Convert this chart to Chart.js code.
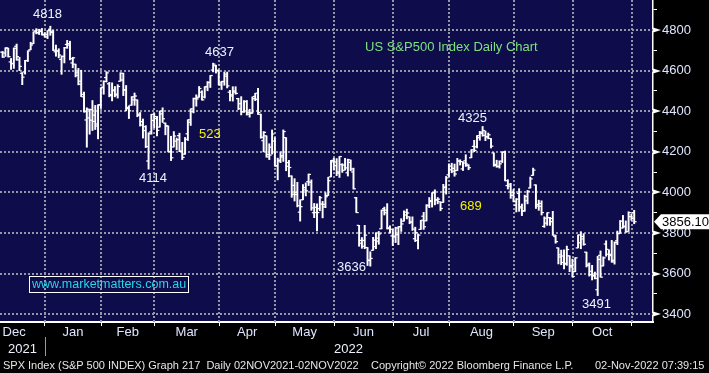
<!DOCTYPE html>
<html><head><meta charset="utf-8">
<script src="https://cdn.jsdelivr.net/npm/chart.js@4.4.0/dist/chart.umd.min.js"></script>
<style>
html,body{margin:0;padding:0;background:#000;}
#wrap{position:relative;width:709px;height:373px;overflow:hidden;font-family:'Liberation Sans',Arial,sans-serif;}
canvas{position:absolute;left:0;top:0;}
.t{position:absolute;white-space:nowrap;line-height:15px;font-size:13px;color:#eef2ff;}
.y{color:#f2f200;}
.g{color:#7ee07e;}
.f{position:absolute;white-space:nowrap;line-height:14px;font-size:11px;color:#e6e6e6;top:358px;}
#web{position:absolute;left:29px;top:276px;width:156px;height:15px;border:1px solid #fff;color:#28d6e6;font-size:12.5px;line-height:15px;padding-left:2px;white-space:nowrap;}
#tag{position:absolute;left:662px;top:214px;line-height:15px;font-size:13px;color:#000;}
</style></head><body>
<div id="wrap">
<canvas id="c" width="709" height="373"></canvas>
<div class="t" style="left:33px;top:6px">4818</div>
<div class="t" style="left:205px;top:44px">4637</div>
<div class="t y" style="left:199px;top:126px">523</div>
<div class="t" style="left:139px;top:170px">4114</div>
<div class="t" style="left:458px;top:110px">4325</div>
<div class="t y" style="left:460px;top:198px">689</div>
<div class="t" style="left:337px;top:259px">3636</div>
<div class="t" style="left:582px;top:296px">3491</div>
<div class="t g" style="left:365px;top:39px">US S&amp;P500 Index Daily Chart</div>
<div id="web">www.marketmatters.com.au</div>
<div class="t" style="left:8px;top:341px">2021</div>
<div class="t" style="left:334px;top:341px">2022</div>
<div id="tag">3856.10</div>
<div class="f" style="left:3px">SPX Index (S&amp;P 500 INDEX) Graph 217&nbsp; Daily 02NOV2021-02NOV2022</div>
<div class="f" style="left:371px">Copyright© 2022 Bloomberg Finance L.P.</div>
<div class="f" style="left:595px">02-Nov-2022 07:39:15</div>
</div>
<script>
// ---- categories: trading sessions shown (Dec 9 2021 .. Nov 1 2022) ----
const monthNames = ['Dec','Jan','Feb','Mar','Apr','May','Jun','Jul','Aug','Sep','Oct','Nov'];
const monthDays = [
  [9,10,13,14,15,16,17,20,21,22,23,27,28,29,30,31],
  [3,4,5,6,7,10,11,12,13,14,18,19,20,21,24,25,26,27,28,31],
  [1,2,3,4,7,8,9,10,11,14,15,16,17,18,22,23,24,25,28],
  [1,2,3,4,7,8,9,10,11,14,15,16,17,18,21,22,23,24,25,28,29,30,31],
  [1,4,5,6,7,8,11,12,13,14,18,19,20,21,22,25,26,27,28,29],
  [2,3,4,5,6,9,10,11,12,13,16,17,18,19,20,23,24,25,26,27,31],
  [1,2,3,6,7,8,9,10,13,14,15,16,17,21,22,23,24,27,28,29,30],
  [1,5,6,7,8,11,12,13,14,15,18,19,20,21,22,25,26,27,28,29],
  [1,2,3,4,5,8,9,10,11,12,15,16,17,18,19,22,23,24,25,26,29,30,31],
  [1,2,6,7,8,9,12,13,14,15,16,19,20,21,22,23,26,27,28,29,30],
  [3,4,5,6,7,10,11,12,13,14,17,18,19,20,21,24,25,26,27,28,31],
  [1]
];
const dec2021Sessions = 22; // full December session count (only the tail is visible)

// ---- series: daily OHLC of the S&P 500 ----
const opens = [4691,4687,4711,4643,4636,4720,4653,4587,4594,4650,4703,4733,4796,4788,4795,4776,
4778,4804,4788,4693,4698,4655,4670,4729,4733,4638,4632,4589,4548,4471,4357,4367,4408,4381,4337,4431,
4519,4566,4535,4482,4505,4480,4548,4554,4506,4413,4430,4456,4456,4385,4332,4324,4155,4298,4355,
4364,4322,4401,4342,4327,4202,4224,4253,4280,4202,4189,4289,4346,4398,4462,4469,4494,4470,4522,4541,4603,4624,4600,
4540,4547,4573,4494,4475,4494,4462,4437,4398,4449,4385,4390,4473,4489,4385,4255,4279,4187,4223,4253,
4130,4159,4181,4270,4129,4081,4035,3990,3903,3964,4013,4053,4051,3900,3927,3920,3943,3929,3985,4077,4151,
4150,4095,4137,4135,4097,4148,4101,3974,3838,3764,3764,3729,3665,3715,3733,3775,3821,3920,3913,3826,3786,
3781,3792,3831,3859,3889,3880,3855,3772,3764,3818,3883,3860,3935,3955,3999,3965,3954,3951,4027,4087,
4112,4105,4108,4155,4116,4156,4133,4171,4227,4225,4270,4291,4281,4274,4266,4195,4133,4127,4154,4199,4034,4041,4001,
3937,3995,3930,3910,3959,4022,4084,4037,3941,3932,3833,3849,3876,3872,3783,3727,3682,3687,3651,3688,3633,
3610,3727,3752,3771,3706,3647,3595,3591,3521,3690,3638,3746,3696,3689,3658,3762,3799,3825,3834,3808,3881,
3901];
const highs = [4695,4713,4711,4660,4712,4731,4666,4591,4651,4698,4740,4791,4807,4804,4808,4787,
4797,4819,4798,4726,4708,4673,4715,4749,4745,4666,4632,4611,4602,4495,4417,4411,4453,4429,4432,4516,
4550,4595,4542,4540,4522,4531,4590,4588,4527,4427,4472,4490,4456,4394,4362,4329,4294,4385,4389,
4375,4401,4417,4342,4328,4277,4300,4268,4292,4247,4271,4358,4412,4465,4481,4522,4501,4521,4546,4576,4637,4627,4603,
4548,4593,4593,4503,4521,4521,4464,4472,4453,4453,4410,4471,4489,4513,4386,4300,4279,4240,4308,4270,
4169,4200,4308,4270,4158,4082,4068,4050,3964,4039,4047,4091,4062,3946,3944,3981,3956,3999,4075,4158,4169,
4167,4177,4142,4168,4164,4160,4120,3976,3838,3778,3838,3729,3708,3779,3802,3808,3914,3928,3945,3836,3818,
3829,3832,3871,3910,3918,3880,3880,3829,3796,3863,3902,3940,3975,3999,4013,3975,3954,4040,4079,4141,
4144,4140,4168,4161,4152,4186,4137,4211,4257,4280,4301,4325,4303,4293,4266,4195,4159,4156,4200,4204,4063,4045,4015,
3970,4019,3943,3987,4010,4076,4120,4038,3962,3959,3880,3900,3877,3907,3790,3727,3716,3717,3736,3688,3672,
3679,3791,3807,3797,3706,3653,3641,3608,3686,3712,3683,3762,3718,3764,3757,3810,3862,3887,3860,3905,3893,
3912];
const lows = [4665,4670,4667,4606,4611,4651,4600,4531,4583,4645,4703,4733,4781,4778,4775,4766,
4758,4774,4699,4671,4663,4582,4638,4710,4653,4614,4569,4530,4472,4396,4223,4287,4305,4310,4264,4415,
4484,4544,4471,4451,4471,4465,4548,4477,4402,4364,4429,4429,4373,4327,4268,4221,4115,4287,4318,
4279,4322,4345,4284,4200,4157,4224,4210,4201,4162,4188,4256,4330,4392,4425,4469,4455,4465,4501,4517,4594,4588,4530,
4507,4528,4515,4451,4450,4484,4408,4382,4394,4381,4371,4390,4452,4384,4267,4200,4174,4162,4189,4129,
4062,4147,4153,4107,4077,3976,3958,3929,3859,3964,3983,4034,3912,3876,3810,3910,3875,3925,3985,4077,4110,
4083,4074,4099,4110,4081,4107,4017,3901,3735,3725,3723,3640,3637,3715,3723,3745,3821,3889,3820,3799,3738,
3753,3743,3808,3859,3870,3846,3813,3758,3722,3818,3818,3860,3925,3928,3939,3944,3910,3951,3992,4079,
4097,4080,4108,4135,4108,4128,4112,4171,4201,4220,4257,4277,4255,4264,4219,4129,4124,4120,4147,4057,4017,3971,3954,
3904,3907,3886,3907,3944,4022,4084,3921,3912,3889,3828,3838,3838,3789,3750,3648,3644,3623,3641,3610,3584,
3610,3727,3723,3740,3633,3588,3569,3574,3492,3583,3638,3686,3667,3656,3647,3743,3799,3825,3803,3808,3863,
3846];
const closes = [4667,4712,4669,4634,4710,4669,4621,4568,4649,4697,4726,4791,4786,4793,4779,4766,
4797,4794,4701,4696,4677,4670,4713,4726,4659,4663,4577,4533,4483,4398,4410,4356,4350,4327,4432,4516,
4547,4589,4477,4501,4484,4522,4587,4504,4419,4402,4471,4475,4380,4349,4305,4226,4289,4385,4374,
4306,4387,4363,4329,4201,4171,4278,4260,4204,4173,4262,4358,4412,4463,4461,4512,4456,4520,4543,4576,4632,4602,4530,
4546,4583,4525,4481,4500,4488,4413,4397,4447,4393,4392,4462,4459,4394,4272,4296,4175,4184,4288,4132,
4155,4175,4300,4147,4123,3991,4001,3935,3930,4024,4008,4089,3924,3901,3901,3974,3941,3979,4058,4158,4132,
4101,4177,4109,4121,4161,4116,4018,3901,3750,3735,3790,3667,3675,3765,3760,3796,3912,3900,3822,3819,3785,
3825,3831,3845,3903,3899,3854,3819,3802,3790,3863,3831,3937,3960,3999,3962,3967,3921,4024,4072,4130,
4119,4091,4155,4152,4145,4140,4122,4210,4207,4280,4297,4305,4274,4284,4228,4138,4129,4141,4199,4058,4031,3986,3955,
3967,3924,3908,3980,4006,4067,4110,3933,3946,3901,3873,3900,3856,3790,3758,3693,3655,3647,3719,3640,3586,
3678,3791,3783,3745,3640,3612,3589,3577,3670,3583,3678,3720,3695,3666,3753,3797,3859,3831,3807,3901,3872,
3856];

// ---- axis tick labels ----
const yTickStep = 100;
const yLabelStep = 200;

// build session list and month boundaries from the categories
const sessions = [];
const monthStart = [];
monthDays.forEach((days, m) => { monthStart.push(sessions.length); days.forEach(d => sessions.push(monthNames[m] + ' ' + d)); });

const GAP = 0.9; // grid line sits just left of a month's first bar
const boundaries = monthStart.slice(1).map(k => k - GAP);
const xMin = -0.93, xMax = 231.7;
const labelTicks = [];
for (let m = 0; m < monthNames.length; m++) {
  const start = m === 0 ? boundaries[0] - dec2021Sessions : boundaries[m - 1];
  const end = boundaries[m];
  if (end === undefined) continue;
  labelTicks.push({ v: (start + end) / 2, label: monthNames[m] });
}
const boundarySet = new Set(boundaries.map(v => v.toFixed(3)));
const labelMap = new Map(labelTicks.map(t => [t.v.toFixed(3), t.label]));
const allXTicks = boundaries.concat(labelTicks.map(t => t.v)).filter(v => v >= xMin && v <= xMax).sort((a, b) => a - b);

const GRID = '#9696a4';
const LABEL = '#dfe5ff';
Chart.defaults.font.family = "'Liberation Sans', Arial, sans-serif";

const hl = sessions.map((s, i) => ({ x: i, y: [lows[i], highs[i]] }));
const op = sessions.map((s, i) => ({ x: i - 0.42, y: opens[i] }));
const cl = sessions.map((s, i) => ({ x: i + 0.42, y: closes[i] }));

const zeroPad = s => { s.paddingLeft = 0; s.paddingRight = 0; s.paddingTop = 0; s.paddingBottom = 0; };

const decor = {
  id: 'decor',
  beforeDraw(chart) {
    const { ctx, chartArea: a } = chart;
    ctx.save();
    ctx.fillStyle = '#000';
    ctx.fillRect(0, 0, chart.width, chart.height);
    ctx.fillStyle = '#0f0c4b';
    ctx.fillRect(a.left, a.top, a.right - a.left, a.bottom - a.top);
    ctx.restore();
  },
  beforeDatasetsDraw(chart) {
    // dotted Bloomberg-style grid, positioned by the chart's own scales
    const { ctx, chartArea: a } = chart;
    const x = chart.scales.x, y = chart.scales.y;
    ctx.save();
    ctx.strokeStyle = GRID;
    ctx.lineWidth = 2;
    ctx.setLineDash([2, 2]);
    boundaries.forEach(v => {
      if (v < xMin || v > xMax) return;
      const px = Math.round(x.getPixelForValue(v));
      ctx.beginPath(); ctx.moveTo(px, a.top); ctx.lineTo(px, a.bottom); ctx.stroke();
    });
    y.ticks.forEach(t => {
      if (t.value % yLabelStep !== 0) return;
      const py = Math.round(y.getPixelForValue(t.value));
      ctx.beginPath(); ctx.moveTo(a.left, py); ctx.lineTo(a.right, py); ctx.stroke();
    });
    ctx.restore();
  },
  afterDraw(chart) {
    const { ctx } = chart;
    const y = chart.scales.y, x = chart.scales.x;
    ctx.save();
    ctx.fillStyle = '#ffffff';
    y.ticks.forEach(t => {
      if (t.value % yLabelStep !== 0) return;
      const py = Math.round(y.getPixelForValue(t.value));
      ctx.beginPath();
      ctx.moveTo(y.left, py - 2.5);
      ctx.lineTo(y.left, py + 2.5);
      ctx.lineTo(y.left + 8, py);
      ctx.closePath();
      ctx.fill();
    });
    // year separator
    const sx = Math.round(x.getPixelForValue(boundaries[0])) + 0.5;
    ctx.strokeStyle = '#9a9a9a';
    ctx.lineWidth = 1;
    ctx.beginPath(); ctx.moveTo(sx, 337); ctx.lineTo(sx, 356); ctx.stroke();
    // last price tag
    const lp = y.getPixelForValue(closes[closes.length - 1]);
    ctx.fillStyle = '#ffffff';
    ctx.beginPath();
    ctx.moveTo(y.left + 1, lp);
    ctx.lineTo(y.left + 8, lp - 7.5);
    ctx.lineTo(chart.width, lp - 7.5);
    ctx.lineTo(chart.width, lp + 7.5);
    ctx.lineTo(y.left + 8, lp + 7.5);
    ctx.closePath();
    ctx.fill();
    ctx.restore();
  }
};

const tickPoint = { showLine: false, pointStyle: 'line', pointRadius: 1.2, pointHoverRadius: 0, pointHitRadius: 0, pointBorderWidth: 1.2, borderWidth: 0, pointBorderColor: '#ffffff', pointBackgroundColor: '#ffffff', order: 1 };

new Chart(document.getElementById('c'), {
  type: 'bar',
  data: {
    datasets: [
      { type: 'bar', data: hl, backgroundColor: '#ffffff', borderWidth: 0, barThickness: 1.3, order: 2 },
      Object.assign({ type: 'line', data: op }, tickPoint),
      Object.assign({ type: 'line', data: cl }, tickPoint)
    ]
  },
  options: {
    responsive: false, animation: false, events: [], devicePixelRatio: 1,
    layout: { padding: 0, autoPadding: false },
    plugins: { legend: { display: false }, tooltip: { enabled: false } },
    scales: {
      x: {
        type: 'linear', min: xMin, max: xMax, offset: false, position: 'bottom',
        afterBuildTicks: s => { s.ticks = allXTicks.map(v => ({ value: v })); },
        afterFit: s => { s.height = 51; zeroPad(s); },
        ticks: {
          autoSkip: false, maxRotation: 0, minRotation: 0, padding: 0, color: LABEL,
          font: { size: 13, lineHeight: 1 },
          callback: v => labelMap.get(Number(v).toFixed(3)) || ''
        },
        grid: {
          offset: false, drawTicks: true, drawOnChartArea: false, tickLength: 4, tickWidth: 1,
          color: 'rgba(0,0,0,0)',
          tickColor: c => boundarySet.has(Number(c.tick && c.tick.value).toFixed(3)) ? '#ffffff' : 'rgba(0,0,0,0)'
        },
        border: { display: true, color: '#ffffff', width: 2 }
      },
      y: {
        type: 'linear', position: 'right', min: 3362, max: 4948,
        afterFit: s => { s.width = 56; zeroPad(s); },
        ticks: {
          stepSize: yTickStep, includeBounds: false, padding: 5, color: LABEL,
          font: { size: 13 },
          callback: v => (v % yLabelStep === 0 ? String(v) : '')
        },
        grid: {
          drawTicks: true, drawOnChartArea: false, tickLength: 4, tickWidth: 1,
          color: 'rgba(0,0,0,0)',
          tickColor: c => (c.tick && c.tick.value % yLabelStep === 0) ? 'rgba(0,0,0,0)' : '#ffffff'
        },
        border: { display: true, color: '#ffffff', width: 1.5 }
      }
    }
  },
  plugins: [decor]
});
</script>
</body></html>
